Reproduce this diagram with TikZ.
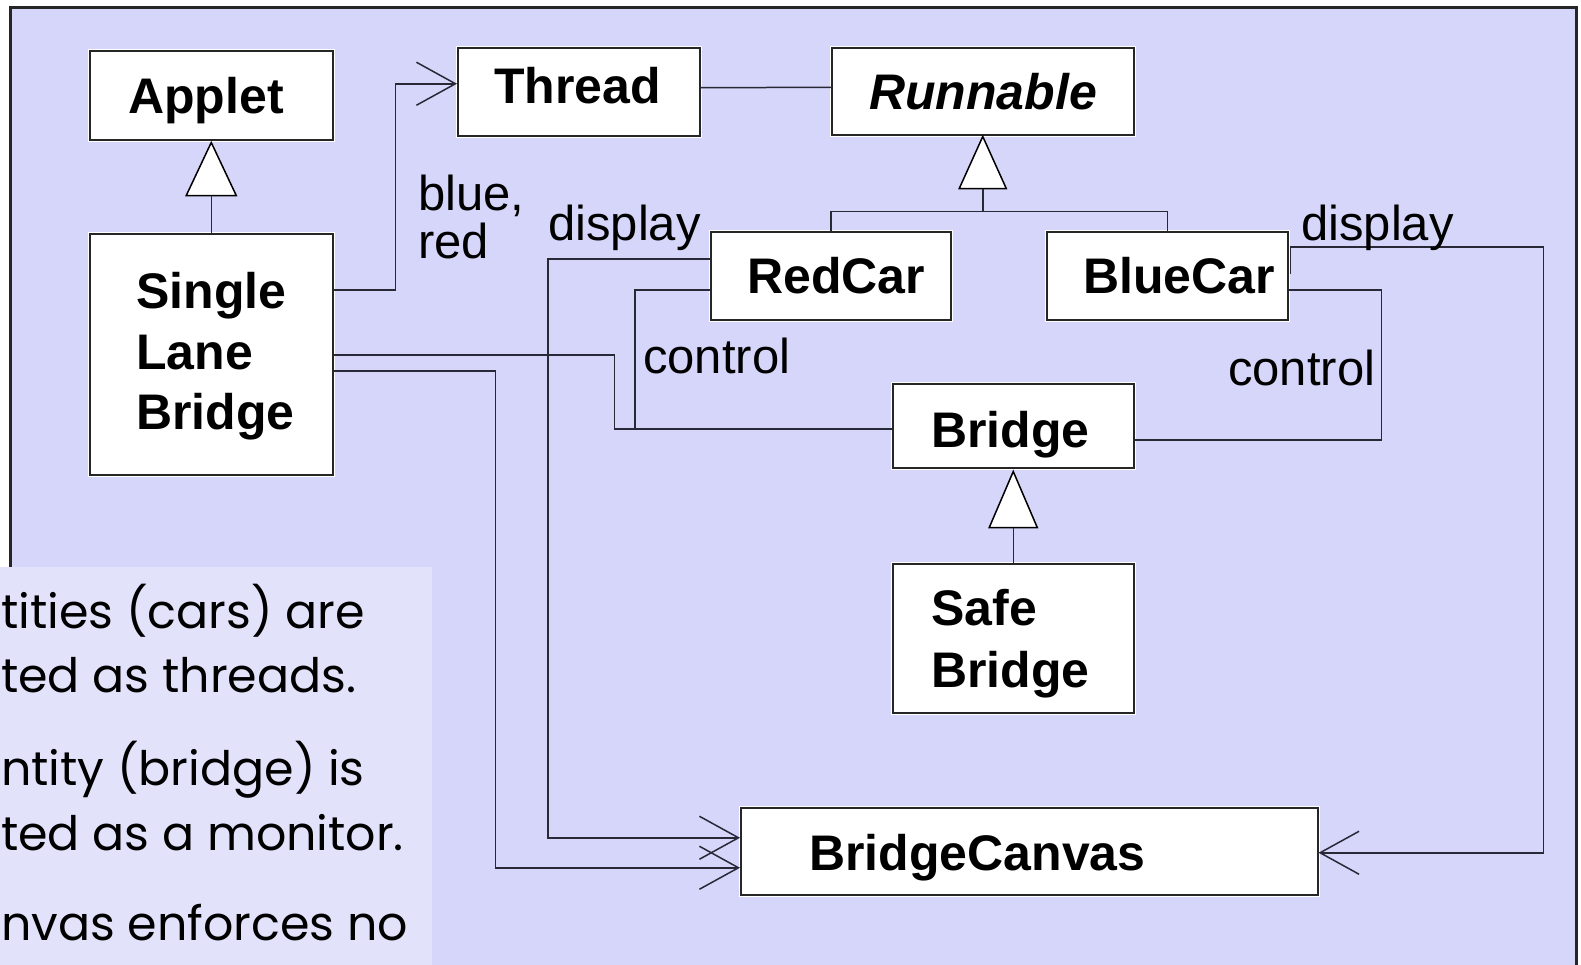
\documentclass[tikz,border=0pt]{standalone}
\usepackage{fontspec}
\setmainfont{Liberation Sans}
\newfontfamily\notefont{Poppins}
\usetikzlibrary{arrows.meta,calc}
\definecolor{lav}{RGB}{214,214,250}
\definecolor{notecol}{RGB}{226,226,251}
\definecolor{ln}{RGB}{40,40,55}
\tikzset{
  umlbox/.style={rectangle, draw=black!85, line width=1.5pt, fill=white, inner sep=0pt, anchor=north west,
    preaction={draw=white, line width=4.5pt}},
  boxtext/.style={inner sep=0pt, anchor=base west, font=\fontsize{50}{60}\selectfont\bfseries},
  lbl/.style={inner sep=0pt, anchor=base west, font=\fontsize{49}{58}\selectfont},
  notetext/.style={inner sep=0pt, anchor=base west, font=\notefont\fontsize{47.5}{56}\selectfont},
  conn/.style={draw=ln, line width=1.5pt},
  arr/.style={conn, -{Straight Barb[length=39pt, width=43pt, line width=1.5pt]}},
  tri/.style={draw=black, line width=1.5pt, fill=white, line join=miter},
}
\begin{document}
\begin{tikzpicture}[x=1pt,y=-1pt]
\useasboundingbox (0,0) rectangle (1581,964);
\clip (0,0) rectangle (1581,964);
% frame
\fill[white] (0,0) rectangle (1581,964);
\fill[lav] (10,7) rectangle (1576,1000);
\draw[black!85, line width=3pt] (10,1000) -- (10,7) -- (1576,7) -- (1576,1000);

% boxes
\node[umlbox, minimum width=243pt, minimum height=89pt] (applet) at (89,50) {};
\node[umlbox, minimum width=242pt, minimum height=88pt] (thread) at (457,47) {};
\node[umlbox, minimum width=302pt, minimum height=87pt] (runnable) at (831,47) {};
\node[umlbox, minimum width=243pt, minimum height=241pt] (slb) at (89,233) {};
\node[umlbox, minimum width=240pt, minimum height=88pt] (redcar) at (710,231) {};
\node[umlbox, minimum width=241pt, minimum height=88pt] (bluecar) at (1046,231) {};
\node[umlbox, minimum width=241pt, minimum height=84pt] (bridge) at (892,383) {};
\node[umlbox, minimum width=241pt, minimum height=149pt] (safebridge) at (892,563) {};
\node[umlbox, minimum width=577pt, minimum height=87pt] (canvas) at (740,807) {};

% box texts
\node[boxtext] (applet-t) at (128,113) {Applet};
\node[boxtext] (thread-t) at (494,103) {Thread};
\node[boxtext, font=\fontsize{50}{60}\selectfont\bfseries\itshape] (runnable-t) at (869,109) {Runnable};
\node[boxtext] (slb-t1) at (136,308) {Single};
\node[boxtext] (slb-t2) at (136,369) {Lane};
\node[boxtext] (slb-t3) at (136,429) {Bridge};
\node[boxtext] (redcar-t) at (747,293) {RedCar};
\node[boxtext] (bluecar-t) at (1083,293) {BlueCar};
\node[boxtext] (bridge-t) at (931,447) {Bridge};
\node[boxtext] (safe-t1) at (931,625) {Safe};
\node[boxtext] (safe-t2) at (931,687) {Bridge};
\node[boxtext] (canvas-t) at (809,870) {BridgeCanvas};

% inheritance: Applet <- SingleLaneBridge
\draw[tri] ([yshift=-2pt]applet.south) -- ++(-25,53) -- ++(50,0) -- cycle;
\coordinate (atb) at ($(applet.south)+(0,55)$);
\draw[conn] (atb) -- (slb.north);

% inheritance: Runnable <- RedCar, BlueCar
\draw[tri] ([yshift=-1pt]runnable.south) -- ++(-23.5,52) -- ++(47,0) -- cycle;
\coordinate (rtb) at ($(runnable.south)+(0,53)$);
\coordinate (rjoin) at ($(runnable.south)+(0,76)$);
\draw[conn] (rtb) -- (rjoin);
\draw[conn] (rjoin) -| (redcar.north);
\draw[conn] (rjoin) -| (bluecar.north);

% inheritance: Bridge <- SafeBridge
\draw[tri] ([yshift=-3pt]bridge.south) -- ++(-24,56) -- ++(48,0) -- cycle;
\coordinate (btb) at ($(bridge.south)+(0,59)$);
\draw[conn] (btb) -- (safebridge.north);

% associations
\draw[arr] ([yshift=-57pt]slb.north east) -- ++(62,0) |- ([yshift=8pt]thread.west);
\draw[conn] ([yshift=4pt]thread.east) -- ([yshift=4pt]runnable.west);
\draw[conn] ([yshift=-122pt]slb.north east) -- ++(281,0) |- ([yshift=-3pt]bridge.west);
\coordinate (rcjoin) at (635,428);
\draw[conn] ([yshift=-59pt]redcar.north west) -| (rcjoin);
\draw[arr] ([yshift=-28pt]redcar.north west) -- ++(-162,0) |- ([yshift=13.5pt]canvas.west);
\draw[arr] ([yshift=-138pt]slb.north east) -- ++(162,0) |- ([yshift=-16.5pt]canvas.west);
\draw[arr] ([xshift=2pt,yshift=-43pt]bluecar.north east) -- ++(0,-27) -- ++(253,0) |- ([yshift=-1.5pt]canvas.east);
\draw[conn] ([yshift=-59pt]bluecar.north east) -- ++(93,0) |- ([yshift=-14pt]bridge.east);

% labels
\node[lbl] (l-blue) at (418,210) {blue,};
\node[lbl] (l-red) at (418,258) {red};
\node[lbl] (l-disp1) at (548,240) {display};
\node[lbl] (l-ctrl1) at (643,373) {control};
\node[lbl] (l-disp2) at (1301,240) {display};
\node[lbl] (l-ctrl2) at (1228,385) {control};

% note box
\fill[notecol] (0,567) rectangle (432,1000);
\node[notetext] (n1) at (1,628) {tities (cars) are};
\node[notetext] (n2) at (1,692) {ted as threads.};
\node[notetext] (n3) at (1,785) {ntity (bridge) is};
\node[notetext] (n4) at (1,850) {ted as a monitor.};
\node[notetext] (n5) at (1,940) {nvas enforces no};
\end{tikzpicture}
\end{document}
